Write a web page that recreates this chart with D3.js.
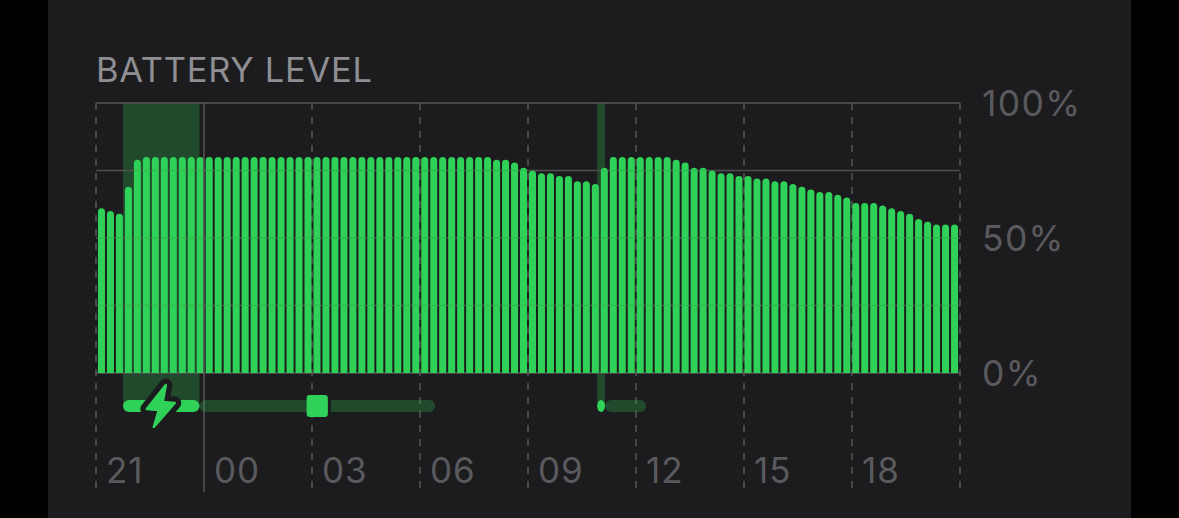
<!DOCTYPE html>
<html>
<head>
<meta charset="utf-8">
<script src="https://cdn.jsdelivr.net/npm/d3@7"></script>
<style>
  html, body { margin: 0; padding: 0; background: #000; }
  svg { display: block; }
  text { font-family: Inter, "Liberation Sans", sans-serif; }
</style>
</head>
<body>
<svg id="chart"></svg>
<script>
// battery level per 15 minute slot, starting at 21:00
const batteryLevels = [
  61, 60, 59, 69, 79, 80, 80, 80, 80, 80, 80, 80,
  80, 80, 80, 80, 80, 80, 80, 80, 80, 80, 80, 80,
  80, 80, 80, 80, 80, 80, 80, 80, 80, 80, 80, 80,
  80, 80, 80, 80, 80, 80, 80, 80, 79, 79, 78, 76,
  75, 74, 74, 73, 73, 71, 71, 70, 76, 80, 80, 80,
  80, 80, 80, 80, 79, 78, 76, 76, 75, 74, 74, 73,
  73, 72, 72, 71, 71, 70, 69, 68, 67, 67, 66, 65,
  63, 63, 63, 62, 61, 60, 59, 57, 56, 55, 55, 55
];
const hourLabels = ["21", "00", "03", "06", "09", "12", "15", "18"];
const percentTicks = [0, 50, 100];
const gridTicks = [0, 25, 50, 75, 100];

// hours since 21:00
const chargingSpans = [[0.75, 2.875], [13.92, 14.14]];
const activitySpans = [[2.875, 9.42], [14.14, 15.28]];
const activeMarks = [[0.75, 2.875], [13.92, 14.14]];
const squareMark = [5.85, 6.44];
const midnight = 3;
const boltAt = 1.8;

const width = 1179, height = 518;
const green = "#30d158", bg = "#1c1c1e", gridColor = "#565658", labelColor = "#5a5a5e";

const svg = d3.select("#chart").attr("width", width).attr("height", height);

svg.append("rect").attr("x", 48).attr("width", 1083).attr("height", height).attr("fill", bg);

const x = d3.scaleLinear().domain([0, 24]).range([96, 960]);
const xBar = d3.scaleBand().domain(d3.range(batteryLevels.length)).range([96, 960]).padding(0.22);
const y = d3.scaleLinear().domain([0, 100]).range([373, 103]);
const hours = d3.range(0, 25, 3);

// charging shade behind everything
svg.append("g").selectAll("rect").data(chargingSpans).join("rect")
    .attr("x", d => x(d[0]))
    .attr("width", d => x(d[1]) - x(d[0]))
    .attr("y", y(100))
    .attr("height", y(0) - y(100) + 33)
    .attr("fill", green).attr("opacity", 0.25);

// horizontal grid
svg.append("g").selectAll("line").data(gridTicks).join("line")
    .attr("x1", x(0)).attr("x2", x(24))
    .attr("y1", d => y(d)).attr("y2", d => y(d))
    .attr("stroke", gridColor).attr("stroke-width", 1.5);

// vertical dashed grid
svg.append("g").selectAll("line").data(hours.filter(h => h !== midnight)).join("line")
    .attr("x1", d => x(d)).attr("x2", d => x(d))
    .attr("y1", y(100)).attr("y2", 488)
    .attr("stroke", gridColor).attr("stroke-width", 1.5)
    .attr("stroke-dasharray", "7 7");

// bars, rounded on top only
const barPath = (d, i) => {
  const w = xBar.bandwidth(), r = w / 2, x0 = xBar(i), top = y(d), p = d3.path();
  p.moveTo(x0, y(0));
  p.lineTo(x0, top + r);
  p.arc(x0 + r, top + r, r, Math.PI, 0);
  p.lineTo(x0 + w, y(0));
  p.closePath();
  return p.toString();
};
svg.append("g").selectAll("path").data(batteryLevels).join("path")
    .attr("d", barPath)
    .attr("fill", green);

// grid shows faintly through the bars
svg.append("g").selectAll("line").data(gridTicks.slice(1, 4)).join("line")
    .attr("x1", x(0)).attr("x2", x(24))
    .attr("y1", d => y(d)).attr("y2", d => y(d))
    .attr("stroke", "#000").attr("stroke-opacity", 0.08).attr("stroke-width", 1.5);

svg.append("line")
    .attr("x1", x(midnight)).attr("x2", x(midnight))
    .attr("y1", y(100)).attr("y2", 492)
    .attr("stroke", gridColor).attr("stroke-width", 1.5);

// activity strip
const strip = svg.append("g");
strip.selectAll(".dim").data(activitySpans).join("rect")
    .attr("class", "dim")
    .attr("x", d => x(d[0])).attr("width", d => x(d[1]) - x(d[0]))
    .attr("y", 400).attr("height", 12).attr("rx", 6)
    .attr("fill", green).attr("opacity", 0.25);
strip.selectAll(".on").data(activeMarks).join("rect")
    .attr("class", "on")
    .attr("x", d => x(d[0])).attr("width", d => x(d[1]) - x(d[0]))
    .attr("y", 400).attr("height", 12).attr("rx", d => Math.min(6, (x(d[1]) - x(d[0])) / 2)).attr("ry", 6)
    .attr("fill", green);

// gap to the right of the square marker, then the marker
strip.append("rect")
    .attr("x", x(squareMark[1])).attr("width", 3).attr("y", 395).attr("height", 22)
    .attr("fill", bg);
strip.append("rect")
    .attr("x", x(squareMark[0])).attr("width", x(squareMark[1]) - x(squareMark[0]))
    .attr("y", 395).attr("height", 22).attr("rx", 3)
    .attr("fill", green);

// charging bolt, halo first
const bolt = "M166,385 L147,409 L159,410 L154,427 L175,403 L163,402 Z";
const boltShift = x(boltAt) - 161;
strip.append("path").attr("d", bolt)
    .attr("transform", `translate(${boltShift},0)`)
    .attr("fill", bg).attr("stroke", bg).attr("stroke-width", 13).attr("stroke-linejoin", "round");
strip.append("path").attr("d", bolt)
    .attr("transform", `translate(${boltShift},0)`)
    .attr("fill", green).attr("stroke", green).attr("stroke-width", 2.5).attr("stroke-linejoin", "round");

// labels
svg.append("text").attr("x", 96).attr("y", 82)
    .attr("font-size", 34.5).attr("letter-spacing", 0.7).attr("fill", "#8e8e93")
    .text("BATTERY LEVEL");

svg.append("g").selectAll("text").data(hourLabels).join("text")
    .attr("x", (d, i) => x(i * 3) + 10).attr("y", 483)
    .attr("font-size", 35).attr("letter-spacing", 1).attr("fill", labelColor)
    .text(d => d);

svg.append("g").selectAll("text").data(percentTicks).join("text")
    .attr("x", 982).attr("y", d => y(d) + 13)
    .attr("font-size", 35.5).attr("letter-spacing", 1.3).attr("fill", labelColor)
    .text(d => d + "%");
</script>
</body>
</html>
